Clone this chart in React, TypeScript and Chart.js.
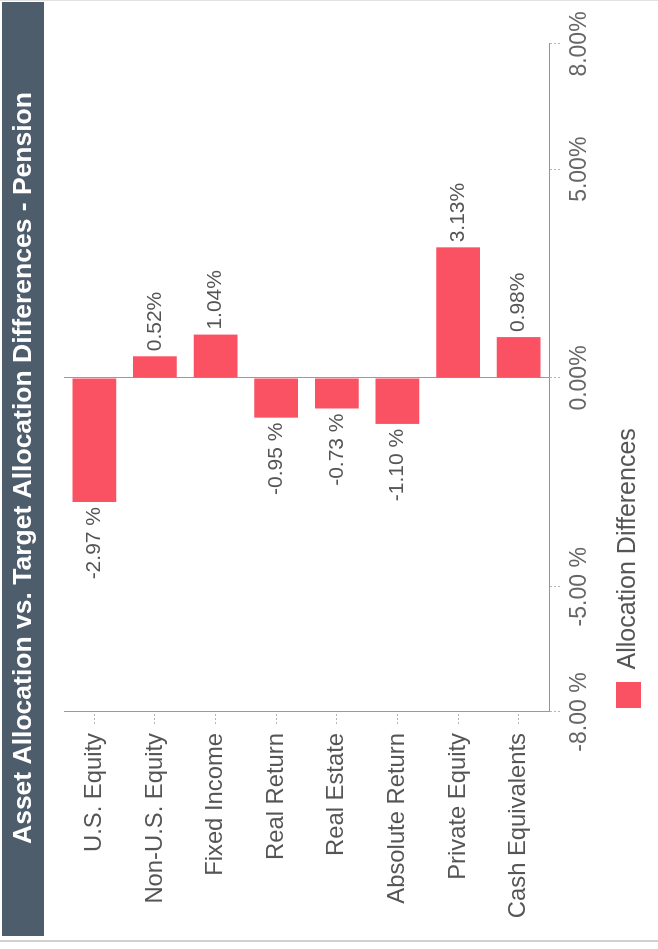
import React, { useEffect, useRef } from 'react';
import { Chart, registerables } from 'chart.js';

Chart.register(...registerables);

const categories = [
  'U.S. Equity',
  'Non-U.S. Equity',
  'Fixed Income',
  'Real Return',
  'Real Estate',
  'Absolute Return',
  'Private Equity',
  'Cash Equivalents',
];
const differences = [-2.97, 0.52, 1.04, -0.95, -0.73, -1.1, 3.13, 0.98];
const valueLabels = ['-2.97 %', '0.52%', '1.04%', '-0.95 %', '-0.73 %', '-1.10 %', '3.13%', '0.98%'];
const tickValues = [-8, -5, 0, 5, 8];
const tickLabels = ['-8.00 %', '-5.00 %', '0.00%', '5.00%', '8.00%'];
const seriesName = 'Allocation Differences';
const chartTitle = 'Asset Allocation vs. Target Allocation Differences - Pension';

const FONT = "'Liberation Sans', Arial, Helvetica, sans-serif";
const W = 949;
const H = 658;

const titleBar = {
  id: 'titleBar',
  beforeDraw(chart: any) {
    const ctx = chart.ctx;
    ctx.save();
    ctx.fillStyle = '#4e5d6c';
    ctx.fillRect(13, 2, W - 15, 42);
    ctx.fillStyle = '#ffffff';
    ctx.font = `bold 26.5px ${FONT}`;
    ctx.textAlign = 'center';
    ctx.textBaseline = 'middle';
    ctx.fillText(chartTitle, 481, 23.5);
    ctx.restore();
  },
};

const barValueLabels = {
  id: 'barValueLabels',
  afterDatasetsDraw(chart: any) {
    const ctx = chart.ctx;
    const meta = chart.getDatasetMeta(0);
    ctx.save();
    ctx.font = `21px ${FONT}`;
    ctx.fillStyle = '#555';
    ctx.textBaseline = 'middle';
    meta.data.forEach((bar: any, i: number) => {
      const v = differences[i];
      if (v >= 0) {
        ctx.textAlign = 'left';
        ctx.fillText(valueLabels[i], bar.x + 5, bar.y);
      } else {
        ctx.textAlign = 'right';
        ctx.fillText(valueLabels[i], bar.x - 5, bar.y);
      }
    });
    ctx.restore();
  },
};

export default function App() {
  const canvasRef = useRef<HTMLCanvasElement | null>(null);

  useEffect(() => {
    const canvas = canvasRef.current;
    if (!canvas) return;
    const chart = new Chart(canvas, {
      type: 'bar',
      data: {
        labels: categories,
        datasets: [
          {
            label: seriesName,
            data: differences,
            backgroundColor: '#fb5263',
            borderWidth: 0,
            categoryPercentage: 0.8,
            barPercentage: 0.9,
          },
        ],
      },
      options: {
        indexAxis: 'y',
        responsive: false,
        animation: false,
        devicePixelRatio: 1,
        layout: { padding: { top: 64, bottom: 7, left: 0, right: 44 } },
        plugins: {
          title: { display: false },
          legend: {
            display: true,
            position: 'bottom',
            align: 'start',
            fullSize: false,
            labels: {
              boxWidth: 26,
              boxHeight: 25,
              color: '#555',
              font: { size: 25, family: FONT },
              padding: 4,
            },
          },
          tooltip: { enabled: false },
        },
        scales: {
          x: {
            type: 'linear',
            min: -8,
            max: 8,
            afterBuildTicks: (scale: any) => {
              scale.ticks = tickValues.map((v) => ({ value: v }));
            },
            afterFit: (scale: any) => {
              scale.height = 63;
            },
            ticks: {
              autoSkip: false,
              maxRotation: 0,
              color: '#666',
              font: { size: 23, family: FONT },
              padding: 5,
              callback: (_v: any, i: number) => tickLabels[i],
            },
            grid: {
              color: (c: any) => (c.tick && c.tick.value === 0 ? '#9a9a9a' : 'rgba(0,0,0,0)'),
              drawTicks: true,
              tickLength: 12,
              tickColor: '#b5b5b5',
              tickBorderDash: [2, 2],
            },
            border: { color: '#8a96a3', width: 1 },
          },
          y: {
            type: 'category',
            afterFit: (scale: any) => {
              scale.width = 237;
            },
            ticks: {
              color: '#555',
              font: { size: 23.8, family: FONT },
              padding: 9,
              autoSkip: false,
            },
            grid: {
              drawOnChartArea: false,
              drawTicks: true,
              offset: false,
              tickLength: 12,
              tickColor: '#b5b5b5',
              tickBorderDash: [2, 2],
            },
            border: { color: '#9a9a9a', width: 1 },
          },
        },
      },
      plugins: [titleBar, barValueLabels],
    } as any);
    return () => chart.destroy();
  }, []);

  return (
    <div
      style={{
        position: 'fixed',
        left: 0,
        top: 0,
        width: 658,
        height: 949,
        background: '#ffffff',
        overflow: 'hidden',
      }}
    >
      <div style={{ position: 'absolute', left: 0, top: 0, width: 658, height: 1, background: '#e2e2e2' }} />
      <div style={{ position: 'absolute', left: 0, top: 940, width: 658, height: 2, background: '#d0d0d0' }} />
      <div
        style={{
          position: 'absolute',
          left: 0,
          top: 0,
          width: W,
          height: H,
          transformOrigin: 'top left',
          transform: `translateY(${W}px) rotate(-90deg)`,
        }}
      >
        <canvas ref={canvasRef} width={W} height={H} style={{ display: 'block', width: W, height: H }} />
      </div>
    </div>
  );
}
